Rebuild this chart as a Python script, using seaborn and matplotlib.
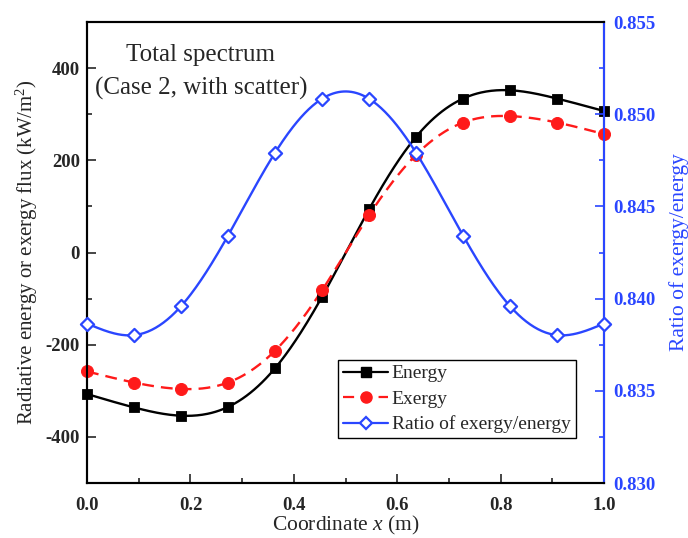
import numpy as np
import pandas as pd
import matplotlib
matplotlib.use("Agg")
import matplotlib.pyplot as plt
import seaborn as sns
from matplotlib.lines import Line2D
from matplotlib.ticker import MultipleLocator, FormatStrFormatter

# ---- data ----
coord = [0.0, 0.0909, 0.1818, 0.2727, 0.3636, 0.4545, 0.5455, 0.6364, 0.7273, 0.8182, 0.9091, 1.0]
energy = [-307, -336, -354, -335, -251, -96, 94, 251, 334, 352, 334, 307]
exergy = [-258, -282, -296, -282, -213, -82, 81, 212, 282, 296, 282, 257]
ratio = [0.83865, 0.83802, 0.83959, 0.84342, 0.84791, 0.85084,
         0.85084, 0.84791, 0.84342, 0.83959, 0.83802, 0.83865]
labels = ["Energy", "Exergy", "Ratio of exergy/energy"]
note_lines = ["Total spectrum", "(Case 2, with scatter)"]


def spline_curve(xs, ys, n=400):
    """Natural cubic spline used only to draw the smooth connecting line."""
    xs = np.asarray(xs, float)
    ys = np.asarray(ys, float)
    k = len(xs)
    h = np.diff(xs)
    A = np.zeros((k, k))
    b = np.zeros(k)
    A[0, 0] = A[-1, -1] = 1
    for i in range(1, k - 1):
        A[i, i - 1] = h[i - 1]
        A[i, i] = 2 * (h[i - 1] + h[i])
        A[i, i + 1] = h[i]
        b[i] = 6 * ((ys[i + 1] - ys[i]) / h[i] - (ys[i] - ys[i - 1]) / h[i - 1])
    M = np.linalg.solve(A, b)
    xx = np.linspace(xs[0], xs[-1], n)
    idx = np.clip(np.searchsorted(xs, xx) - 1, 0, k - 2)
    x0, x1 = xs[idx], xs[idx + 1]
    hh = x1 - x0
    t0 = x1 - xx
    t1 = xx - x0
    yy = (M[idx] * t0 ** 3 / (6 * hh) + M[idx + 1] * t1 ** 3 / (6 * hh)
          + (ys[idx] / hh - M[idx] * hh / 6) * t0
          + (ys[idx + 1] / hh - M[idx + 1] * hh / 6) * t1)
    return xx, yy


sns.set_style("ticks")
plt.rcParams["font.family"] = ["Liberation Serif", "DejaVu Serif"]
plt.rcParams["mathtext.fontset"] = "custom"
plt.rcParams["mathtext.rm"] = "Liberation Serif"
plt.rcParams["mathtext.it"] = "Liberation Serif:italic"
plt.rcParams["axes.unicode_minus"] = False

BLUE = "#2a46ff"
RED = "#ff1a1a"

fig = plt.figure(figsize=(6.88, 5.38), dpi=100)
ax = fig.add_axes([0.1265, 0.1022, 0.7515, 0.8568])
ax2 = ax.twinx()

pts = pd.DataFrame({"x": coord, "energy": energy, "exergy": exergy, "ratio": ratio})

xe, ye = spline_curve(coord, energy)
xx2, yx2 = spline_curve(coord, exergy)
xr, yr = spline_curve(coord, ratio)

sns.lineplot(x=xe, y=ye, ax=ax, color="black", lw=1.7, sort=False)
sns.lineplot(x=xx2, y=yx2, ax=ax, color=RED, lw=1.7, sort=False, linestyle=(0, (5, 3)))
sns.scatterplot(data=pts, x="x", y="energy", ax=ax, marker="s", s=55, color="black",
                edgecolor="black", zorder=5, clip_on=False)
sns.scatterplot(data=pts, x="x", y="exergy", ax=ax, marker="o", s=75, color=RED,
                edgecolor=RED, zorder=5, clip_on=False)

sns.lineplot(x=xr, y=yr, ax=ax2, color=BLUE, lw=1.7, sort=False)
ax2.scatter(pts["x"], pts["ratio"], marker="D", s=45, facecolor="white",
            edgecolor=BLUE, linewidths=1.6, zorder=5, clip_on=False)

ax.set_xlim(0, 1.0)
ax.set_ylim(-500, 500)
ax2.set_ylim(0.830, 0.855)

ax.xaxis.set_major_locator(MultipleLocator(0.2))
ax.xaxis.set_minor_locator(MultipleLocator(0.1))
ax.yaxis.set_major_locator(MultipleLocator(200))
ax.yaxis.set_minor_locator(MultipleLocator(100))
ax2.yaxis.set_major_locator(MultipleLocator(0.005))
ax2.yaxis.set_minor_locator(MultipleLocator(0.0025))
ax.xaxis.set_major_formatter(FormatStrFormatter("%.1f"))
ax2.yaxis.set_major_formatter(FormatStrFormatter("%.3f"))

for a in (ax, ax2):
    for s in a.spines.values():
        s.set_visible(True)
        s.set_linewidth(1.5)
        s.set_color("black")
ax2.spines["right"].set_color(BLUE)

ax.tick_params(axis="x", which="major", pad=10)
ax.tick_params(axis="y", which="major", pad=5)
ax.tick_params(axis="both", which="major", direction="in", length=6.5, width=1.2,
               labelsize=13.5, top=False, right=False)
ax.tick_params(axis="both", which="minor", direction="in", length=3.5, width=1.2,
               top=False, right=False)
ax2.tick_params(axis="y", which="major", direction="in", length=6.5, width=1.2,
                labelsize=13.5, colors=BLUE, pad=6.5)
ax2.tick_params(axis="y", which="minor", direction="in", length=3.5, width=1.2, colors=BLUE)
for lab in ax.get_xticklabels() + ax.get_yticklabels() + ax2.get_yticklabels():
    lab.set_fontweight("bold")

ax.set_xlabel("Coordinate $x$ (m)", fontsize=15.5, labelpad=0)
ax.set_ylabel("Radiative energy or exergy flux (kW/m$^2$)", fontsize=15, labelpad=4)
ax2.set_ylabel("Ratio of exergy/energy", fontsize=15.5, color=BLUE, labelpad=10)

ax.text(0.22, 0.928, note_lines[0], transform=ax.transAxes, ha="center", va="center", fontsize=18)
ax.text(0.22, 0.857, note_lines[1], transform=ax.transAxes, ha="center", va="center", fontsize=18)

handles = [
    Line2D([], [], color="black", lw=1.6, marker="s", markersize=7),
    Line2D([], [], color=RED, lw=1.6, linestyle=(0, (5, 3)), marker="o", markersize=8),
    Line2D([], [], color=BLUE, lw=1.6, marker="D", markersize=6.5, markerfacecolor="white",
           markeredgewidth=1.6),
]
leg = ax2.legend(handles, labels, loc="upper left", bbox_to_anchor=(0.486, 0.267),
                 fontsize=14, frameon=True, fancybox=False, framealpha=1,
                 edgecolor="black", handlelength=2.3, handletextpad=0.2,
                 labelspacing=0.4, borderpad=0.25, borderaxespad=0)
leg.get_frame().set_linewidth(1.0)

fig.savefig("out.png", dpi=100)
